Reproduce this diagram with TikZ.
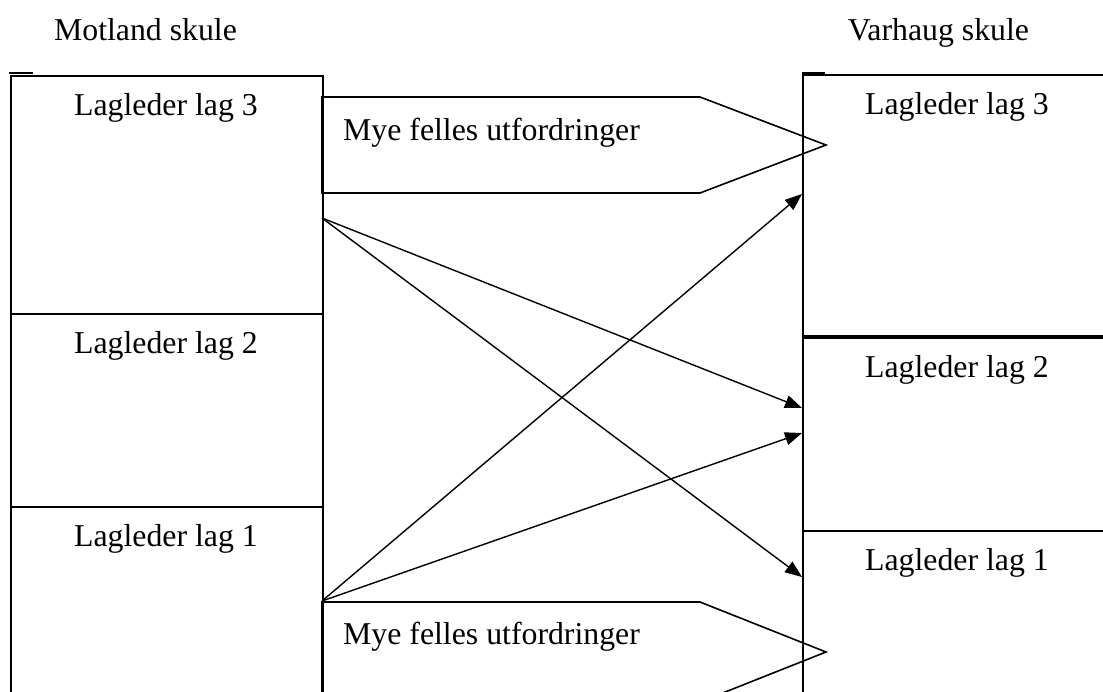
\documentclass[tikz,border=0pt]{standalone}
\usepackage{fontspec}
\setmainfont{Liberation Serif}
\usetikzlibrary{arrows.meta}
\begin{document}
\begin{tikzpicture}[x=1pt,y=-1pt,
  box/.style={draw, line width=1.6pt, anchor=north west, inner sep=0pt, minimum width=312pt},
  rbox/.style={draw, line width=1.6pt, anchor=north west, inner sep=0pt, minimum width=310pt},
  lbl/.style={anchor=base, inner sep=0pt, font=\fontsize{31.8}{38}\selectfont},
  link/.style={line width=1.4pt, -{Triangle[length=17pt,width=13pt]}},
  banner/.style={draw, line width=1.6pt, line join=miter}]
\useasboundingbox (0,0) rectangle (1103,691);
\clip (0,0) rectangle (1103,691);

% school headings
\node[lbl] (mot) at (145.5,40) {Motland skule};
\node[lbl] (var) at (938.5,40) {Varhaug skule};

% Motland team leader boxes
\node[box, minimum height=238pt] (L3) at (10,75) {};
\node[box, minimum height=193pt] (L2) at (10,313) {};
\node[box, minimum height=200pt] (L1) at (10,506) {};
\draw[line width=1.6pt] (9,73) -- (33,73);

% Varhaug team leader boxes
\node[rbox, minimum height=261pt] (R3) at (802,74) {};
\node[rbox, minimum height=193pt] (R2) at (802,337) {};
\node[rbox, minimum height=200pt] (R1) at (802,530) {};
\draw[line width=1.6pt] (802,73) -- (825,73);

% box titles
\node[lbl] (tL3) at (166,115) {Lagleder lag 3};
\node[lbl] (tL2) at (166,353) {Lagleder lag 2};
\node[lbl] (tL1) at (166,546) {Lagleder lag 1};
\node[lbl] (tR3) at (957,114) {Lagleder lag 3};
\node[lbl] (tR2) at (957,377) {Lagleder lag 2};
\node[lbl] (tR1) at (957,570) {Lagleder lag 1};

% shared-challenge banners
\draw[banner] (322,97) -- (700,97) -- (826,145) -- (700,193) -- (322,193) -- cycle;
\node[lbl, anchor=base west] (b3) at (343,140) {Mye felles utfordringer};
\draw[banner] (322,602) -- (700,602) -- (826,652) -- (700,702) -- (322,702) -- cycle;
\node[lbl, anchor=base west] (b1) at (343,644) {Mye felles utfordringer};

% connector end points
\coordinate (s3) at (322,218);
\coordinate (s1) at (322,601);
\coordinate (e3) at (802,194);
\coordinate (e2a) at (802,408);
\coordinate (e2b) at (802,433);
\coordinate (e1) at (802,577);

% cross links
\draw[link] (s3) -- (e2a);
\draw[link] (s3) -- (e1);
\draw[link] (s1) -- (e3);
\draw[link] (s1) -- (e2b);
\end{tikzpicture}
\end{document}
